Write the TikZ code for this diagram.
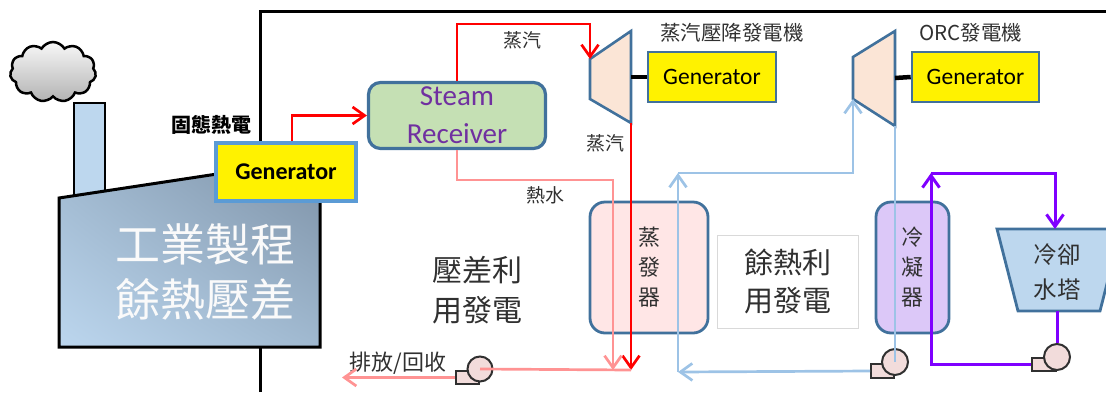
\documentclass[tikz,border=0pt]{standalone}
\usepackage{fontspec}
\setmainfont{Carlito}
\newfontfamily\cjk{Noto Sans CJK TC}
\usetikzlibrary{arrows.meta,shapes.symbols,calc,shadings}

\definecolor{edgeblue}{HTML}{41719C}
\definecolor{genblue}{HTML}{5B9BD5}
\definecolor{steamred}{HTML}{FF0000}
\definecolor{hotpink}{HTML}{FF9393}
\definecolor{orcblue}{HTML}{9DC3E6}
\definecolor{coolviolet}{HTML}{7F00FF}
\definecolor{recvgreen}{HTML}{C5E0B4}
\definecolor{recvtext}{HTML}{7030A0}
\definecolor{turbfill}{HTML}{FBE5D6}
\definecolor{evapfill}{HTML}{FFE6E6}
\definecolor{condfill}{HTML}{DCC8F8}
\definecolor{towerfill}{HTML}{BDD7EE}
\definecolor{pumpfill}{HTML}{F2DCDB}
\definecolor{darktext}{HTML}{303030}
\definecolor{factlight}{HTML}{BCD6EE}
\definecolor{factmid}{HTML}{A0B9D0}
\definecolor{factdark}{HTML}{7F93A8}

\begin{document}
\begin{tikzpicture}[x=1pt,y=-1pt,
  flow/.style={line width=2.7pt},
  tip/.style={-{Straight Barb[length=12pt,width=17pt]}},
  steam/.style={flow,draw=steamred},
  hot/.style={flow,draw=hotpink},
  orc/.style={flow,draw=orcblue},
  cool/.style={flow,line width=3pt,draw=coolviolet},
  genbox/.style={draw=edgeblue,line width=2.6pt,fill=yellow,inner sep=0pt,
    font=\fontsize{23.5}{23.5}\selectfont},
  vessel/.style={draw=edgeblue,line width=2.8pt,rounded corners=15pt,inner sep=0pt,
    minimum height=131pt,text=darktext,align=center,
    font=\cjk\fontsize{22}{30}\selectfont},
  turbine/.style={draw=edgeblue,line width=2.6pt,fill=turbfill,line join=miter},
  shaft/.style={line width=4.5pt,draw=black},
  tag/.style={inner sep=0pt,text=darktext,font=\cjk\fontsize{19}{22}\selectfont},
  zone/.style={inner sep=0pt,text=darktext,align=center,font=\cjk\fontsize{30}{40}\selectfont},
  pumpbody/.style={circle,draw=darktext,line width=2pt,fill=pumpfill,
    minimum size=25pt,inner sep=0pt},
  pumpfoot/.style={rectangle,draw=darktext,line width=2pt,fill=pumpfill,
    minimum width=23pt,minimum height=13pt,inner sep=0pt,anchor=north east},
]
\useasboundingbox (0,0) rectangle (1106,392);
\clip (0,0) rectangle (1106,392);

% frame of the plant area
\draw[line width=3pt] (260,392) -- (260,11) -- (1106,11);

% smoke, chimney and factory
\node[cloud,cloud puffs=11,cloud puff arc=120,aspect=1.45,minimum width=86pt,
  minimum height=60pt,draw=black,line width=2.5pt,inner sep=0pt,
  top color=white!94!gray,bottom color=gray!60] (smoke) at (53,72) {};
\draw[fill=towerfill,line width=2.5pt] (74,103) rectangle (105,200);
\path[shade,draw=black,line width=3pt,line join=miter,
  lower left=factlight,upper right=factdark,upper left=factmid,lower right=factmid]
  (59,198) -- (250,169) -- (320,169) -- (320,347) -- (59,347) -- cycle;
\node[inner sep=0pt,align=center,text=white!96!gray,
  font=\cjk\fontsize{45}{55}\selectfont] (process) at (205,272) {工業製程\\餘熱壓差};

% solid-state thermoelectric generator
\node[genbox,draw=genblue,line width=3.5pt,minimum width=140pt,minimum height=58pt,
  font=\bfseries\fontsize{24}{24}\selectfont] (gen0) at (286,172) {Generator};
\node[inner sep=0pt,text=black,font=\cjk\bfseries\fontsize{20}{22}\selectfont]
  (solidlbl) at (211,125) {固態熱電};

% steam receiver
\node[draw=edgeblue,line width=3.2pt,rounded corners=12pt,fill=recvgreen,
  minimum width=177pt,minimum height=66pt,inner sep=0pt,text=recvtext,align=center,
  font=\fontsize{29}{38}\selectfont] (recv) at (457,115.5) {Steam\\Receiver};

% steam expander and its generator
\coordinate (t1a) at (590,59);
\coordinate (t1b) at (631,31);
\coordinate (t1c) at (631,123);
\coordinate (t1d) at (590,99);
\draw[turbine] (t1a) -- (t1b) -- (t1c) -- (t1d) -- cycle;
\node[genbox,minimum width=128pt,minimum height=50pt] (gen1) at (712,77) {Generator};
\coordinate (t1s) at (631,77);
\draw[shaft] (t1s) -- (gen1.west);
\node[tag,font=\cjk\fontsize{20.5}{22}\selectfont] (hdr1) at (732,33) {蒸汽壓降發電機};

% ORC expander and its generator
\coordinate (t2a) at (853,57);
\coordinate (t2b) at (895,31);
\coordinate (t2c) at (895,126);
\coordinate (t2d) at (853,99);
\draw[turbine] (t2a) -- (t2b) -- (t2c) -- (t2d) -- cycle;
\node[genbox,minimum width=127pt,minimum height=50pt] (gen2) at (975.5,77) {Generator};
\coordinate (t2s) at (895,78);
\draw[shaft] (t2s) -- (gen2.west);
\node[tag,font=\cjk\fontsize{20.5}{22}\selectfont] (hdr2) at (971,33) {ORC發電機};

% evaporator and condenser
\node[vessel,fill=evapfill,minimum width=118pt] (evap) at (649,267.5) {蒸\\發\\器};
\node[vessel,fill=condfill,minimum width=73pt] (cond) at (912.5,267.5) {冷\\凝\\器};

% cooling tower
\coordinate (twA) at (997,229);
\coordinate (twB) at (1121,229);
\coordinate (twC) at (1100,311);
\coordinate (twD) at (1018,311);
\draw[draw=edgeblue,line width=2.8pt,fill=towerfill,line join=miter]
  (twA) -- (twB) -- (twC) -- (twD) -- cycle;
\node[inner sep=0pt,align=center,text=darktext,font=\cjk\fontsize{23.5}{35}\selectfont]
  (towerlbl) at (1057,272) {冷卻\\水塔};
\coordinate (towertop) at (1055,229);
\coordinate (towerbot) at (1057,311);

% zone captions
\node[zone] (zone1) at (477,290) {壓差利\\用發電};
\node[draw=gray!30,line width=1pt,minimum width=141pt,minimum height=93pt,
  inner sep=0pt] (zone2box) at (787.5,281.5) {};
\node[zone,font=\cjk\fontsize{29}{38}\selectfont] (zone2) at (zone2box) {餘熱利\\用發電};

% stream labels
\node[tag] (lblsteam1) at (522,40) {蒸汽};
\node[tag] (lblsteam2) at (605,143) {蒸汽};
\node[tag] (lblhot) at (545,195) {熱水};
\node[tag,font=\cjk\fontsize{22}{24}\selectfont] (lblout) at (398,363) {排放/回收};

% pumps
\node[pumpfoot] (pump1foot) at (480,370) {};
\node[pumpbody] (pump1) at (480,369) {};
\node[pumpfoot,minimum width=23pt,minimum height=14pt] (pump2foot) at (895,363) {};
\node[pumpbody,minimum size=26pt] (pump2) at (895,362) {};
\node[pumpfoot,minimum width=24pt] (pump3foot) at (1057,357) {};
\node[pumpbody,minimum size=26pt] (pump3) at (1057,357) {};

% turning points of the piping
\coordinate (steamtop) at (590,24);
\coordinate (mix) at (631,370);
\coordinate (hotturn) at (613,180);
\coordinate (hotdrop) at (613,370);
\coordinate (outlet) at (342,377);
\coordinate (orcturn1) at (678,372);
\coordinate (orcturn2) at (678,173);
\coordinate (coolturn) at (931,173);

% steam / hot-water circuit
\draw[steam,tip] ($(gen0.north)+(6,0)$) |- (recv.west);
\draw[steam,tip] (recv.north) |- (steamtop) -- (t1a);
\draw[steam,tip] (t1c) -- (mix);
\draw[hot,tip] (recv.south) |- (hotturn) -- (hotdrop);
\draw[hot] (mix) -- (pump1.center);
\draw[hot,tip] (pump1foot.west) -- (pump1foot.west -| outlet);

% ORC circuit
\draw[orc] (t2c) -- (pump2.center);
\draw[orc,tip] (pump2foot.west) -- (orcturn1);
\draw[orc,tip] (orcturn1) -- (orcturn2);
\draw[orc,tip] (orcturn2) -| (t2d);

% cooling-water circuit
\draw[cool] (towerbot) -- (pump3.north);
\draw[cool,tip] (pump3foot.west) -| (coolturn);
\draw[cool,tip] (coolturn) -| (towertop);
\end{tikzpicture}
\end{document}
